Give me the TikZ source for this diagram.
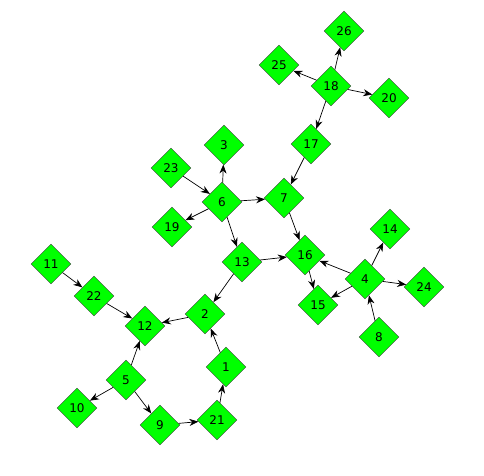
\documentclass[tikz,border=0pt]{standalone}
\usepackage{fontspec}
\setsansfont{DejaVu Sans}
\usetikzlibrary{arrows.meta,shapes.geometric}

\begin{document}
\begin{tikzpicture}[x=1pt, y=-1pt,
    vertex/.style={diamond, aspect=1, draw=black!75, fill=green, minimum size=40pt, inner sep=0pt, font=\sffamily\fontsize{12}{14}\selectfont},
    link/.style={-{Stealth[length=9pt,width=7pt]}, draw=black, line width=0.7pt}]
    \useasboundingbox (0,0) rectangle (484,475);

    % upper part
    \node[vertex](26) at (344,31)  {26};
    \node[vertex](25) at (279,65)  {25};
    \node[vertex](18) at (331,86)  {18};
    \node[vertex](20) at (389,98)  {20};
    \node[vertex](17) at (311,144) {17};
    \node[vertex](3)  at (224,145) {3};
    \node[vertex](23) at (171,168) {23};
    \node[vertex](6)  at (222,202) {6};
    \node[vertex](7)  at (284,198) {7};
    \node[vertex](19) at (172,227) {19};

    % right part
    \node[vertex](14) at (390,229) {14};
    \node[vertex](16) at (305,255) {16};
    \node[vertex](4)  at (365,279) {4};
    \node[vertex](15) at (318,305) {15};
    \node[vertex](24) at (424,287) {24};
    \node[vertex](8)  at (379,337) {8};

    % lower left part
    \node[vertex](11) at (51,264)  {11};
    \node[vertex](13) at (242,262) {13};
    \node[vertex](22) at (94,296)  {22};
    \node[vertex](2)  at (205,314) {2};
    \node[vertex](12) at (145,326) {12};
    \node[vertex](1)  at (226,367) {1};
    \node[vertex](5)  at (126,380) {5};
    \node[vertex](10) at (77,408)  {10};
    \node[vertex](9)  at (160,425) {9};
    \node[vertex](21) at (217,420) {21};

    % upper part
    \draw [link] (18) to (26);
    \draw [link] (18) to (25);
    \draw [link] (18) to (20);
    \draw [link] (18) to (17);
    \draw [link] (17) to (7);
    \draw [link] (23) to (6);
    \draw [link] (6) to (3);
    \draw [link] (6) to (7);
    \draw [link] (6) to (19);
    \draw [link] (6) to (13);

    % right part
    \draw [link] (7) to (16);
    \draw [link] (13) to (16);
    \draw [link] (16) to (15);
    \draw [link] (4) to (16);
    \draw [link] (4) to (15);
    \draw [link] (4) to (14);
    \draw [link] (4) to (24);
    \draw [link] (8) to (4);

    % lower left part
    \draw [link] (13) to (2);
    \draw [link] (2) to (12);
    \draw [link] (1) to (2);
    \draw [link] (21) to (1);
    \draw [link] (9) to (21);
    \draw [link] (5) to (9);
    \draw [link] (5) to (10);
    \draw [link] (5) to (12);
    \draw [link] (11) to (22);
    \draw [link] (22) to (12);

  \end{tikzpicture}
\end{document}
